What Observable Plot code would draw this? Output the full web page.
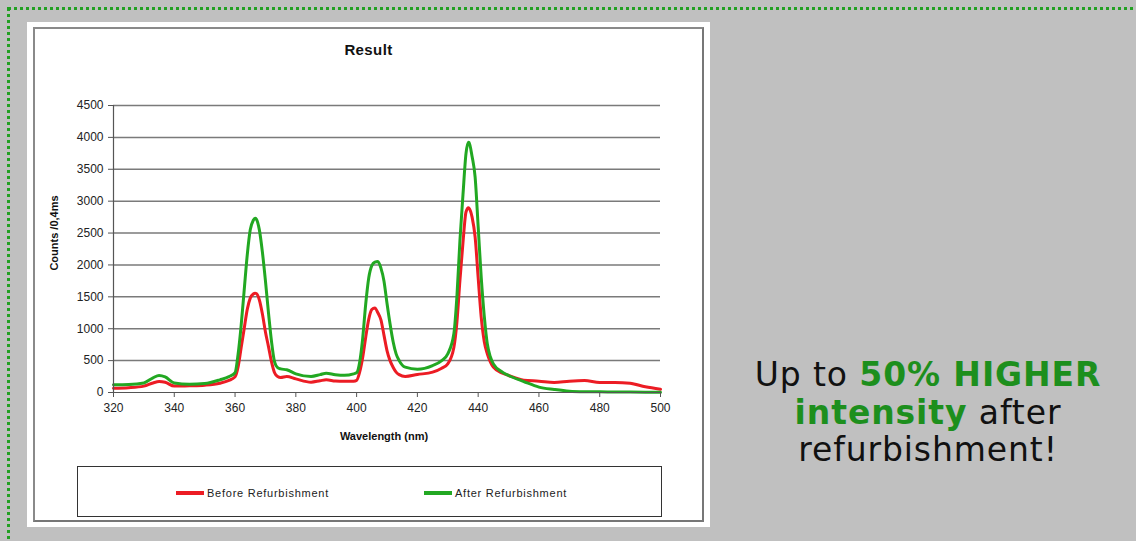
<!DOCTYPE html>
<html>
<head>
<meta charset="utf-8">
<script src="https://cdn.jsdelivr.net/npm/d3@7"></script>
<script src="https://cdn.jsdelivr.net/npm/@observablehq/plot@0.6"></script>
<style>
  html, body { margin: 0; padding: 0; }
  body { width: 1136px; height: 541px; background: #c0c0c0; position: relative; overflow: hidden; font-family: "Liberation Sans", Arial, sans-serif; }
  .dots { position: absolute; left: 7px; top: 7px; width: 1200px; height: 600px; border-left: 3px dotted #22a022; border-top: 3px dotted #22a022; box-sizing: border-box; }
  .panel { position: absolute; left: 27px; top: 22px; width: 683px; height: 505px; background: #fff; }
  .frame { position: absolute; left: 33px; top: 27px; width: 671px; height: 495px; border: 2px solid #8a8a8a; border-right-color: #777; border-bottom-color: #777; box-sizing: border-box; }
  .title { position: absolute; left: 33px; top: 41px; width: 671px; text-align: center; font-weight: bold; font-size: 15px; letter-spacing: 0.4px; color: #111; }
  .ylab { position: absolute; left: 54px; top: 233px; transform: translate(-50%, -50%) rotate(-90deg); white-space: nowrap; font-weight: bold; font-size: 11px; color: #111; }
  .xlab { position: absolute; left: 384px; top: 430px; transform: translateX(-50%); white-space: nowrap; font-weight: bold; font-size: 11px; color: #111; }
  #chart { position: absolute; left: 33px; top: 27px; }
  .legend { position: absolute; left: 77px; top: 466px; width: 585px; height: 51px; border: 1.5px solid #333; box-sizing: border-box; }
  .lg { position: absolute; top: 20px; font-size: 11px; letter-spacing: 0.75px; color: #222; white-space: nowrap; display: flex; align-items: center; }
  .lg i { display: inline-block; width: 28px; height: 4px; margin-right: 3px; }
  .msg { position: absolute; left: 730px; top: 356px; width: 396px; text-align: center; font-family: "DejaVu Sans", Verdana, sans-serif; font-size: 33px; letter-spacing: 0.9px; line-height: 37.5px; color: #111; }
  .msg b { color: #1d8f1d; }
</style>
</head>
<body>
<div class="dots"></div>
<div class="panel"></div>
<div class="frame"></div>
<div id="chart"></div>
<div class="title">Result</div>
<div class="ylab">Counts /0,4ms</div>
<div class="xlab">Wavelength (nm)</div>
<div class="legend" id="legend"></div>
<div class="msg">Up to <b>50% HIGHER</b><br><b>intensity</b> after<br>refurbishment!</div>
<script>
const wavelength = [320,325,330,333,335,337,340,345,350,355,
  358,360,361,362,363,364,365,366,366.6,367,
  368,369,370,371,372,373,374,375,377,380,
  385,388,390,393,396,399,400,401,402,403,
  404,405,406,407,408,409,410,411,412,413,
  414,416,420,425,428,430,432,433,434,435,
  436,436.8,437,438,439,440,441,442,443,444,
  445,448,450,455,460,465,470,475,480,485,
  490,495,500];
const afterValues = [121,125,150,230,267,245,150,130,140,199,
  250,310,600,1050,1600,2150,2550,2700,2733,2720,
  2550,2200,1750,1250,800,480,390,370,356,293,
  251,280,303,280,270,293,310,476,850,1390,
  1800,1990,2045,2055,1950,1750,1400,1077,800,606,
  500,397,366,423,500,606,920,1500,2383,3100,
  3750,3925,3920,3700,3376,2600,1808,1200,763,560,
  449,319,267,172,84,47,20,12,10,8,
  6,5,5];
const beforeValues = [67,75,100,150,172,160,100,105,115,146,
  190,245,400,700,1000,1300,1480,1545,1557,1552,
  1450,1230,950,720,480,310,250,235,251,214,
  162,185,199,180,175,178,190,319,550,868,
  1150,1300,1326,1250,1139,900,658,500,397,320,
  280,251,282,319,380,449,706,1100,1756,2350,
  2830,2896,2890,2750,2435,1800,1181,800,606,480,
  397,303,267,193,178,157,178,188,157,157,
  146,89,52];
const seriesNames = ["Before Refurbishment", "After Refurbishment"];
const seriesColors = ["#ec1c24", "#22a822"];
const xTicks = [320,340,360,380,400,420,440,460,480,500];
const yTicks = [0,500,1000,1500,2000,2500,3000,3500,4000,4500];

const rows = [];
wavelength.forEach((w, i) => {
  rows.push({wl: w, v: beforeValues[i], s: seriesNames[0]});
  rows.push({wl: w, v: afterValues[i], s: seriesNames[1]});
});

const chart = Plot.plot({
  width: 671,
  height: 425,
  marginLeft: 80,
  marginRight: 44,
  marginTop: 78,
  marginBottom: 60,
  style: {fontFamily: "'Liberation Sans', Arial, sans-serif", fontSize: "11px", background: "transparent", color: "#222"},
  x: {domain: [320, 500]},
  y: {domain: [0, 4500]},
  color: {domain: seriesNames, range: seriesColors},
  marks: [
    Plot.ruleY(yTicks.slice(1), {stroke: "#7a7a7a", strokeWidth: 1.5}),
    Plot.line(rows, {x: "wl", y: "v", z: "s", stroke: "s", strokeWidth: 3, curve: "monotone-x"}),
    Plot.ruleX([320], {stroke: "#555", strokeWidth: 1.2}),
    Plot.ruleY([0], {stroke: "#555", strokeWidth: 1.2}),
    Plot.axisX({ticks: xTicks, tickFormat: d => String(d), tickSize: 5, tickPadding: 6, label: null, stroke: "#555", fontSize: 12, letterSpacing: "0.6px"}),
    Plot.axisY({ticks: yTicks, tickFormat: d => String(d), tickSize: 5, tickPadding: 5, label: null, stroke: "#555", fontSize: 12, letterSpacing: "1px"})
  ]
});
document.getElementById("chart").appendChild(chart);

const legend = document.getElementById("legend");
const lgPos = [98, 346];
seriesNames.forEach((n, i) => {
  const d = document.createElement("div");
  d.className = "lg";
  d.style.left = lgPos[i] + "px";
  d.innerHTML = `<i style="background:${seriesColors[i]}"></i>${n}`;
  legend.appendChild(d);
});
</script>
</body>
</html>
